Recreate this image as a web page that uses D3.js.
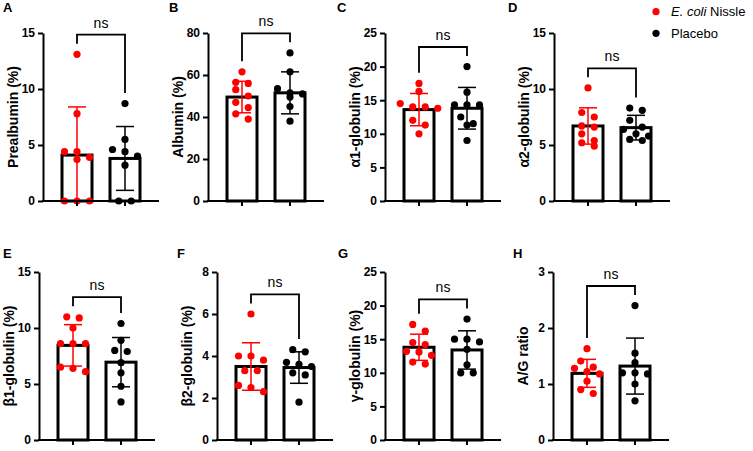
<!DOCTYPE html>
<html>
<head>
<meta charset="utf-8">
<script src="https://cdnjs.cloudflare.com/ajax/libs/d3/7.8.5/d3.min.js"></script>
<style>
body { margin: 0; background: #fff; }
svg { display: block; font-family: Arial, "Liberation Sans", sans-serif; }
</style>
</head>
<body>
<script>
var w = 753;
var h = 451;

// data
var panelNames = ["A", "B", "C", "D", "E", "F", "G", "H"];
var yLabels = ["Prealbumin (%)", "Albumin (%)", "α1-globulin (%)", "α2-globulin (%)",
               "β1-globulin (%)", "β2-globulin (%)", "γ-globulin (%)", "A/G ratio"];
var yMax = [15, 80, 25, 15, 15, 8, 25, 3];
var yStep = [5, 20, 5, 5, 5, 2, 5, 1];
var groups = ["E. coli Nissle", "Placebo"];
var groupColors = ["#ff0000", "#000000"];

var nissleValues = [
  [13.1, 7.8, 4.4, 4.4, 3.9, 3.7, 0, 0, 0],
  [61.5, 56.5, 56, 53, 50, 47, 44.5, 41.5, 39],
  [17.5, 16.3, 14.5, 14, 14, 13.8, 12, 11.3, 10],
  [10.1, 7.9, 7.5, 6.7, 6.6, 6.0, 5.4, 5.2, 4.9],
  [11, 10.9, 10, 8.6, 8.6, 8.6, 6.5, 6.4, 6.1],
  [6, 4, 4, 3.8, 3.3, 3.3, 2.6, 2.5, 2.3],
  [17.2, 16.2, 14.5, 14.2, 13.2, 13.1, 12.6, 11.6, 11.3],
  [1.63, 1.41, 1.3, 1.28, 1.22, 1.18, 1.05, 0.9, 0.83]
];
var placeboValues = [
  [8.7, 5.5, 4.6, 4.4, 4.0, 3.2, 0, 0],
  [70.5, 61.5, 53.5, 51.5, 51, 49.5, 45, 38],
  [20, 16.2, 14.3, 14.3, 14.3, 12.5, 11.5, 11.3, 9],
  [8.3, 8.1, 7.2, 6.6, 6.4, 6.0, 5.8, 5.5, 5.4],
  [10.4, 8.9, 8, 7.9, 6.9, 6, 4.8, 3.4],
  [4.3, 4.2, 3.7, 3.6, 3.5, 3.2, 3.1, 1.8],
  [18, 15, 15, 14.6, 13.5, 11.2, 10, 10],
  [2.4, 1.55, 1.38, 1.2, 1.2, 1.18, 1.0, 0.7]
];
var nissleMean = [4.1, 49.5, 13.6, 6.7, 8.45, 3.5, 13.8, 1.19];
var nissleSD = [4.3, 7.5, 2.4, 1.62, 1.85, 1.13, 1.95, 0.25];
var placeboMean = [3.8, 51.5, 13.8, 6.55, 6.95, 3.45, 13.4, 1.32];
var placeboSD = [2.85, 10, 3.1, 1.1, 2.2, 0.75, 2.85, 0.5];

// layout
var axisX = [43, 208, 385, 554, 39, 217, 385, 553];
var letterX = [3, 169, 337, 508, 3, 177, 338, 513];
var letterY = [12, 258];
var rowTop = [33, 272];
var rowBottom = [201, 440];
var axisLen = 116;
var dotR = 3.6;

var svg = d3.select("body")
            .append("svg")
            .attr("width", w)
            .attr("height", h);

// lay dots out in rows like a scatter column
function spread(vals, yScale) {
  var pts = vals.map(function(v) { return {v: v, py: yScale(v)}; })
                .sort(function(a, b) { return a.py - b.py; });
  var rows = [];
  pts.forEach(function(p) {
    var last = rows[rows.length - 1];
    if (last && Math.abs(p.py - last[0].py) < 7) last.push(p);
    else rows.push([p]);
  });
  rows.forEach(function(r) {
    r.forEach(function(p, i) { p.dx = (i - (r.length - 1) / 2) * 12.5; });
  });
  return pts;
}

panelNames.forEach(function(name, i) {
  var row = i < 4 ? 0 : 1;
  var x0 = axisX[i];
  var yScale = d3.scaleLinear()
                 .domain([0, yMax[i]])
                 .range([rowBottom[row], rowTop[row]]);
  var xScale = d3.scaleBand()
                 .domain(groups)
                 .range([x0 + 19, x0 + 97])
                 .paddingInner(0.375);
  var g = svg.append("g");

  var means = [nissleMean[i], placeboMean[i]];
  var sds = [nissleSD[i], placeboSD[i]];
  var vals = [nissleValues[i], placeboValues[i]];

  // bars
  g.selectAll("rect")
   .data(groups)
   .enter()
   .append("rect")
   .attr("x", function(d) { return xScale(d); })
   .attr("y", function(d, j) { return yScale(means[j]); })
   .attr("width", xScale.bandwidth())
   .attr("height", function(d, j) { return yScale(0) - yScale(means[j]); })
   .style("fill", "white")
   .style("stroke", "black")
   .style("stroke-width", 3);

  // error bars
  groups.forEach(function(gr, j) {
    var cx = xScale(gr) + xScale.bandwidth() / 2;
    var hi = means[j] + sds[j];
    var lo = means[j] - sds[j];
    var eb = g.append("g").style("stroke", groupColors[j]).style("stroke-width", 1.5);
    eb.append("line")
      .attr("x1", cx).attr("x2", cx)
      .attr("y1", yScale(hi)).attr("y2", yScale(Math.max(lo, 0)));
    eb.append("line")
      .attr("x1", cx - 9).attr("x2", cx + 9)
      .attr("y1", yScale(hi)).attr("y2", yScale(hi));
    if (lo > 0) {
      eb.append("line")
        .attr("x1", cx - 9).attr("x2", cx + 9)
        .attr("y1", yScale(lo)).attr("y2", yScale(lo));
    }
  });

  // dots
  var legEnds = [];
  groups.forEach(function(gr, j) {
    var cx = xScale(gr) + xScale.bandwidth() / 2;
    var pts = spread(vals[j], yScale);
    g.append("g")
     .selectAll("circle")
     .data(pts)
     .enter()
     .append("circle")
     .attr("cx", function(d) { return cx + d.dx; })
     .attr("cy", function(d) { return d.py; })
     .attr("r", dotR)
     .style("fill", groupColors[j]);
    var top = Math.min(yScale(d3.max(vals[j])) - dotR, yScale(means[j] + sds[j]));
    legEnds.push(top - 7);
  });

  // axes
  var yAxis = d3.axisLeft(yScale)
                .tickValues(d3.range(0, yMax[i] + 1e-9, yStep[i]))
                .tickFormat(d3.format("d"))
                .tickSize(5)
                .tickSizeOuter(0)
                .tickPadding(3);
  var ya = g.append("g")
            .attr("transform", "translate(" + x0 + ",0)")
            .call(yAxis);
  ya.select(".domain").style("stroke-width", 2);
  ya.selectAll(".tick line").style("stroke-width", 2);
  ya.selectAll(".tick text")
    .style("font-size", "12px")
    .style("font-weight", "bold")
    .style("fill", "black");

  var xAxis = d3.axisBottom(xScale).tickSize(5).tickSizeOuter(0).tickFormat("");
  var xa = g.append("g")
            .attr("transform", "translate(0," + rowBottom[row] + ")")
            .call(xAxis);
  xa.select(".domain").remove();
  xa.selectAll(".tick line").style("stroke-width", 2);
  xa.append("line")
    .attr("x1", x0 - 1).attr("x2", x0 + axisLen)
    .attr("y1", 0).attr("y2", 0)
    .style("stroke", "black")
    .style("stroke-width", 2);

  // significance bracket
  var c1 = xScale(groups[0]) + xScale.bandwidth() / 2;
  var c2 = xScale(groups[1]) + xScale.bandwidth() / 2;
  var by = Math.min(legEnds[0], legEnds[1]) - 9;
  g.append("path")
   .attr("d", "M" + c1 + "," + legEnds[0] + "V" + by + "H" + c2 + "V" + legEnds[1])
   .style("fill", "none")
   .style("stroke", "black")
   .style("stroke-width", 1.8);
  g.append("text")
   .attr("x", (c1 + c2) / 2)
   .attr("y", by - 7)
   .attr("text-anchor", "middle")
   .style("font-size", "14px")
   .text("ns");

  // y label
  var cy = (rowTop[row] + rowBottom[row]) / 2;
  g.append("text")
   .attr("transform", "translate(" + (x0 - 30) + "," + cy + ") rotate(-90)")
   .attr("text-anchor", "middle")
   .attr("dy", "0.35em")
   .style("font-size", "14px")
   .style("font-weight", "bold")
   .text(yLabels[i]);

  // panel letter
  g.append("text")
   .attr("x", letterX[i])
   .attr("y", letterY[row])
   .style("font-size", "13px")
   .style("font-weight", "bold")
   .text(name);
});

// legend
var legend = svg.append("g");
groups.forEach(function(gr, j) {
  var ly = 11.7 + j * 21.6;
  legend.append("circle")
        .attr("cx", 656).attr("cy", ly).attr("r", dotR)
        .style("fill", groupColors[j]);
  var t = legend.append("text")
                .attr("x", 671).attr("y", ly + 4.5)
                .style("font-size", "13px");
  if (j === 0) {
    t.append("tspan").style("font-style", "italic").text("E. coli");
    t.append("tspan").text(" Nissle");
  } else {
    t.text(gr);
  }
});
</script>
</body>
</html>
